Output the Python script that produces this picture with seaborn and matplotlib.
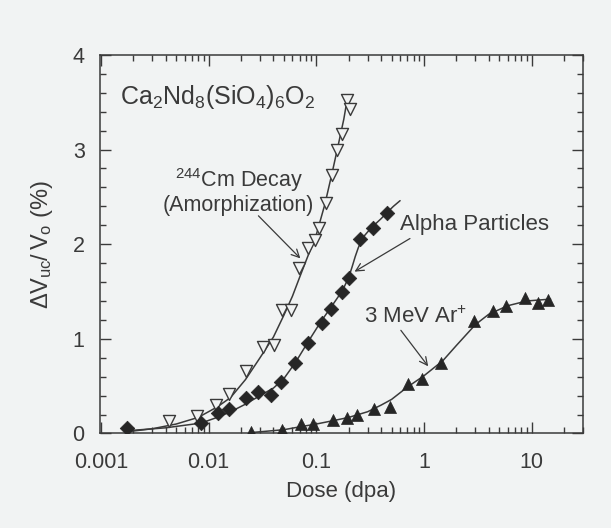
import numpy as np
import pandas as pd
import matplotlib
matplotlib.use("Agg")
import matplotlib.pyplot as plt
import seaborn as sns

# -----------------------------
# Data
# -----------------------------
# 244Cm decay (open down-triangles)
cm_dose = [0.0043, 0.0078, 0.0117, 0.0153, 0.0222, 0.0321, 0.0402, 0.048, 0.0584,
           0.0697, 0.083, 0.0977, 0.106, 0.122, 0.139, 0.157, 0.174, 0.191, 0.205]
cm_swell = [0.13, 0.19, 0.30, 0.42, 0.66, 0.91, 0.94, 1.30, 1.30,
            1.75, 1.96, 2.04, 2.17, 2.44, 2.73, 3.00, 3.16, 3.52, 3.43]

# alpha particles (filled diamonds)
al_dose = [0.00173, 0.00855, 0.0122, 0.0153, 0.022, 0.0288, 0.0382, 0.0472, 0.064,
           0.083, 0.113, 0.136, 0.175, 0.201, 0.257, 0.336, 0.453]
al_swell = [0.06, 0.11, 0.22, 0.26, 0.37, 0.44, 0.41, 0.54, 0.75,
            0.96, 1.17, 1.32, 1.49, 1.64, 2.05, 2.17, 2.33]

# 3 MeV Ar+ (filled up-triangles)
ar_dose = [0.0247, 0.048, 0.072, 0.094, 0.144, 0.194, 0.24, 0.341, 0.479,
           0.716, 0.964, 1.45, 2.94, 4.33, 5.75, 8.6, 11.4, 14.2]
ar_swell = [0.02, 0.04, 0.10, 0.10, 0.14, 0.16, 0.20, 0.26, 0.28,
            0.52, 0.58, 0.75, 1.19, 1.29, 1.35, 1.43, 1.38, 1.41]

# fitted curves
cm_fit_dose = [0.0018, 0.003, 0.005, 0.008, 0.012, 0.016, 0.022, 0.03, 0.04, 0.05,
               0.06, 0.07, 0.08, 0.1, 0.12, 0.14, 0.16, 0.18, 0.195]
cm_fit_swell = [0.02, 0.05, 0.10, 0.17, 0.28, 0.38, 0.57, 0.80, 1.02, 1.25,
                1.45, 1.65, 1.82, 2.10, 2.42, 2.75, 3.05, 3.32, 3.55]

al_fit_dose = [0.0018, 0.004, 0.0085, 0.012, 0.016, 0.022, 0.03, 0.04, 0.05, 0.064,
               0.083, 0.11, 0.14, 0.175, 0.2, 0.215, 0.23, 0.245, 0.26, 0.28, 0.3,
               0.336, 0.4, 0.45, 0.52, 0.6]
al_fit_swell = [0.03, 0.06, 0.11, 0.17, 0.23, 0.31, 0.40, 0.48, 0.58, 0.75,
                0.96, 1.18, 1.35, 1.51, 1.65, 1.76, 1.87, 1.96, 2.03, 2.09, 2.13,
                2.19, 2.27, 2.33, 2.40, 2.46]

ar_fit_dose = [0.025, 0.05, 0.07, 0.1, 0.15, 0.2, 0.3, 0.4, 0.5, 0.7, 1.0, 1.5,
               2.0, 3.0, 4.0, 6.0, 9.0, 15.0]
ar_fit_swell = [0.01, 0.04, 0.07, 0.10, 0.14, 0.17, 0.23, 0.30, 0.36, 0.49, 0.61, 0.77,
                0.93, 1.15, 1.26, 1.35, 1.40, 1.42]

x_ticks = [0.001, 0.01, 0.1, 1, 10]
x_tick_labels = ["0.001", "0.01", "0.1", "1", "10"]
y_ticks = [0, 1, 2, 3, 4]

# -----------------------------
# Style
# -----------------------------
bg = "#f1f3f3"
ink = "#3a3a3a"

sns.set_style("ticks")
plt.rcParams["font.family"] = ["Liberation Sans", "DejaVu Sans"]
plt.rcParams["mathtext.default"] = "regular"
plt.rcParams["text.color"] = ink
plt.rcParams["axes.labelcolor"] = ink

fig = plt.figure(figsize=(6.11, 5.28), dpi=100, facecolor=bg)
ax = fig.add_axes([0.1637, 0.179, 0.7905, 0.717])
ax.set_facecolor(bg)

# fitted curves
for fx, fy in [(cm_fit_dose, cm_fit_swell), (al_fit_dose, al_fit_swell),
               (ar_fit_dose, ar_fit_swell)]:
    sns.lineplot(x=fx, y=fy, ax=ax, color=ink, linewidth=1.1, estimator=None)

# data points
cm_df = pd.DataFrame({"dose": cm_dose, "swell": cm_swell})
al_df = pd.DataFrame({"dose": al_dose, "swell": al_swell})
ar_df = pd.DataFrame({"dose": ar_dose, "swell": ar_swell})

sns.scatterplot(data=cm_df, x="dose", y="swell", ax=ax, marker="v", s=75,
                facecolor=bg, edgecolor=ink, linewidth=1.0, zorder=3)
sns.scatterplot(data=al_df, x="dose", y="swell", ax=ax, marker="D", s=55,
                color="#262626", edgecolor="#262626", linewidth=0.5, zorder=3)
sns.scatterplot(data=ar_df, x="dose", y="swell", ax=ax, marker="^", s=75,
                color="#262626", edgecolor="#262626", linewidth=0.5, zorder=3)

ax.set_xscale("log")
ax.set_xlim(0.00098, 30)
ax.set_ylim(0, 4)
ax.set_xticks(x_ticks)
ax.set_xticklabels(x_tick_labels)
ax.set_yticks(y_ticks)
ax.yaxis.set_minor_locator(matplotlib.ticker.MultipleLocator(0.2))
ax.xaxis.set_minor_locator(matplotlib.ticker.LogLocator(base=10, subs=np.arange(2, 10)))
ax.xaxis.set_minor_formatter(matplotlib.ticker.NullFormatter())

ax.tick_params(which="both", direction="in", top=True, right=True,
               colors=ink, labelsize=15.5, width=1.0)
ax.tick_params(axis="x", which="major", length=8, pad=13)
ax.tick_params(axis="y", which="major", length=8, pad=11)
ax.tick_params(which="minor", length=4.5)
for sp in ax.spines.values():
    sp.set_color(ink)
    sp.set_linewidth(1.1)

ax.set_xlabel("Dose (dpa)", fontsize=16, labelpad=6)
ax.set_ylabel(r"$\Delta V_{uc}\!\!\;/\,V_{o}\;(\%)$", fontsize=17, labelpad=13)

# annotations
ax.text(0.0015, 3.56, r"$Ca_2Nd_8(SiO_4)_6O_2$", fontsize=18, ha="left", va="center")
ax.text(0.019, 2.56, "$^{244}$Cm Decay\n(Amorphization)", fontsize=15.5,
        ha="center", va="center", linespacing=1.05)
ax.text(2.94, 2.21, "Alpha Particles", fontsize=16, ha="center", va="center")
ax.text(0.84, 1.23, "3 MeV Ar$^{+}$", fontsize=16, ha="center", va="center")

arrow = dict(arrowstyle="->", color=ink, linewidth=0.9, shrinkA=0, shrinkB=0,
             mutation_scale=14)
ax.annotate("", xy=(0.0711, 1.85), xytext=(0.029, 2.30), arrowprops=arrow)
ax.annotate("", xy=(0.2265, 1.71), xytext=(0.741, 2.06), arrowprops=arrow)
ax.annotate("", xy=(1.094, 0.71), xytext=(0.61, 1.09), arrowprops=arrow)

fig.savefig("out.png", dpi=100, facecolor=bg)
